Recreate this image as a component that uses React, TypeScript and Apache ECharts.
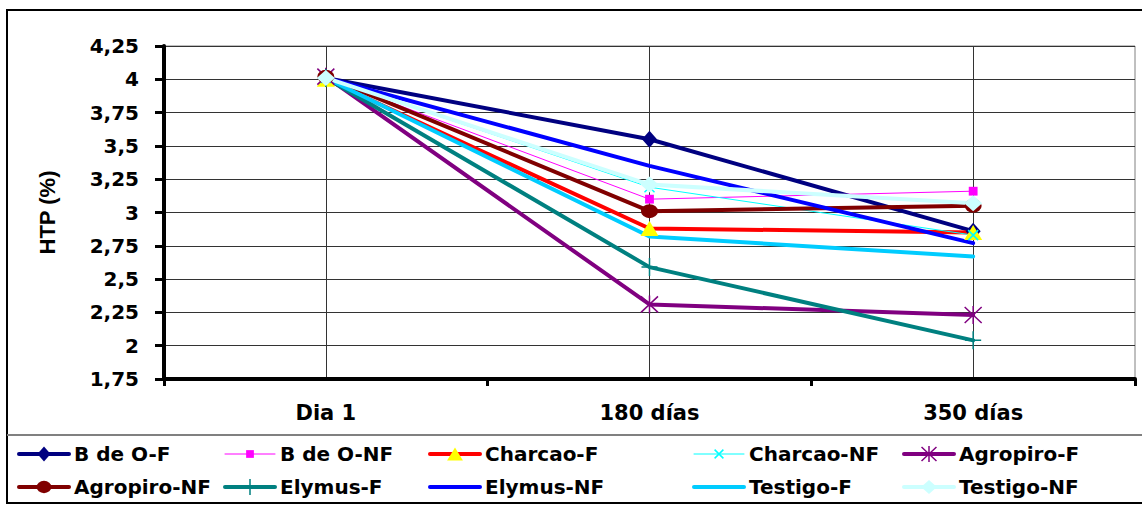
import React, { useEffect, useRef } from 'react';
import * as echarts from 'echarts';

// ---- data ----
const categories = ['Dia 1', '180 días', '350 días'];
const seriesNames = [
  'B de O-F', 'B de O-NF', 'Charcao-F', 'Charcao-NF', 'Agropiro-F',
  'Agropiro-NF', 'Elymus-F', 'Elymus-NF', 'Testigo-F', 'Testigo-NF',
];
const bDeOF = [4.01, 3.55, 2.86];
const bDeONF = [4.01, 3.1, 3.16];
const charcaoF = [4.0, 2.88, 2.85];
const charcaoNF = [4.01, 3.19, 2.83];
const agropiroF = [4.02, 2.31, 2.23];
const agropiroNF = [4.02, 3.01, 3.05];
const elymusF = [4.01, 2.59, 2.04];
const elymusNF = [4.01, 3.35, 2.77];
const testigoF = [4.01, 2.82, 2.67];
const testigoNF = [4.01, 3.21, 3.07];
const seriesValues = [bDeOF, bDeONF, charcaoF, charcaoNF, agropiroF, agropiroNF, elymusF, elymusNF, testigoF, testigoNF];
const yMin = 1.75;
const yMax = 4.25;
const yStep = 0.25;
const centerSlots = ['0', '1', '2', '3', '4', '5', '6'];

// ---- marker shapes (20x20 box, padded) ----
const PAD = 'M0 0M20 20';
const mk = (d: string) => 'path://' + PAD + d;
const shapes = {
  diamond: mk('M10 1.5L17.5 10L10 18.5L2.5 10Z'),
  square: mk('M5.6 5.6H14.4V14.4H5.6Z'),
  triangle: mk('M10 2.5L19 17.5L1 17.5Z'),
  cross: mk('M5 5L15 15M15 5L5 15'),
  star: mk('M1.5 2L18.5 18M18.5 2L1.5 18M10 1V19'),
  ellipse: mk('M1.5 10A8.5 7 0 1 0 18.5 10A8.5 7 0 1 0 1.5 10Z'),
  plus: mk('M10 1V19M2 10H18'),
  bigDiamond: mk('M10 2L19 10L10 18L1 10Z'),
  none: mk('M0 9H20V11H0Z'),
};

type Sty = { line: string; mark: string; width: number; symbol: string; stroke?: boolean; hide?: boolean };
const styles: Sty[] = [
  { line: '#000080', mark: '#000080', width: 4, symbol: shapes.diamond },
  { line: '#FF00FF', mark: '#FF00FF', width: 1, symbol: shapes.square },
  { line: '#FF0000', mark: '#FFFF00', width: 4, symbol: shapes.triangle },
  { line: '#00FFFF', mark: '#00FFFF', width: 1, symbol: shapes.cross, stroke: true },
  { line: '#800080', mark: '#800080', width: 4, symbol: shapes.star, stroke: true },
  { line: '#800000', mark: '#800000', width: 4, symbol: shapes.ellipse },
  { line: '#008080', mark: '#008080', width: 4, symbol: shapes.plus, stroke: true },
  { line: '#0000FF', mark: '#0000FF', width: 4, symbol: shapes.none, hide: true },
  { line: '#00CCFF', mark: '#00CCFF', width: 4, symbol: shapes.none, hide: true },
  { line: '#CCFFFF', mark: '#CCFFFF', width: 4, symbol: shapes.bigDiamond },
];

const legendColumns = [[0, 5], [1, 6], [2, 7], [3, 8], [4, 9]];
const legendLefts = [17, 223, 428, 692, 902];

const boldFont = { fontFamily: 'DejaVu Sans', fontWeight: 'bold' as const, color: '#000' };

export default function App() {
  const ref = useRef<HTMLDivElement>(null);
  useEffect(() => {
    if (!ref.current) return;
    const chart = echarts.init(ref.current, undefined, { renderer: 'svg' });
    const series = seriesNames.map((name, i) => {
      const s = styles[i];
      return {
        name,
        type: 'line',
        data: seriesValues[i],
        xAxisIndex: 0,
        symbol: s.symbol,
        symbolSize: 20,
        showSymbol: !s.hide,
        lineStyle: { color: s.line, width: s.width, join: 'round', cap: 'round' },
        itemStyle: {
          color: s.mark,
          borderColor: s.mark,
          borderWidth: s.stroke ? 1.5 : 0,
        },
        emphasis: { disabled: true },
      };
    });
    chart.setOption({
      animation: false,
      grid: {
        left: 164, right: 7, top: 46, bottom: 127,
        show: true, borderColor: '#808080', borderWidth: 1, backgroundColor: 'transparent',
      },
      xAxis: [
        {
          type: 'category',
          data: categories,
          boundaryGap: true,
          position: 'bottom',
          axisLine: { show: true, lineStyle: { color: '#000', width: 4 } },
          axisTick: { show: true, length: 7, lineStyle: { color: '#000', width: 3 } },
          axisLabel: { ...boldFont, fontSize: 21, margin: 23 },
          splitLine: { show: false },
        },
        {
          type: 'category',
          data: centerSlots,
          boundaryGap: false,
          position: 'top',
          axisLine: { show: false },
          axisTick: { show: false },
          axisLabel: { show: false },
          splitLine: {
            show: true,
            interval: (idx: number) => idx % 2 === 1,
            lineStyle: { color: '#333', width: 1 },
          },
        },
      ],
      yAxis: {
        type: 'value',
        min: yMin,
        max: yMax,
        interval: yStep,
        name: 'HTP (%)',
        nameLocation: 'middle',
        nameRotate: 90,
        nameGap: 106,
        nameTextStyle: { fontFamily: 'Liberation Sans', fontWeight: 'bold', fontSize: 22, color: '#000' },
        axisLine: { show: true, lineStyle: { color: '#000', width: 4 } },
        axisTick: { show: true, length: 9, lineStyle: { color: '#000', width: 3 } },
        axisLabel: {
          ...boldFont,
          fontSize: 20,
          margin: 25,
          formatter: (v: number) => String(v).replace('.', ','),
        },
        splitLine: { show: true, lineStyle: { color: '#333', width: 1 } },
      },
      legend: legendColumns.map((col, i) => ({
        orient: 'vertical',
        left: legendLefts[i],
        top: 443,
        padding: 0,
        itemWidth: 50,
        itemHeight: 22,
        itemGap: 11,
        selectedMode: false,
        data: col.map((k) => seriesNames[k]),
        textStyle: { ...boldFont, fontSize: 20, lineHeight: 22 },
        lineStyle: { width: 'inherit' },
        itemStyle: { borderWidth: 'inherit' },
      })),
      graphic: [
        {
          type: 'rect',
          silent: true,
          z: -10,
          shape: { x: 7, y: 10, width: 1150, height: 493 },
          style: { fill: 'none', stroke: '#000', lineWidth: 2 },
        },
        {
          type: 'line',
          silent: true,
          shape: { x1: 7, y1: 435, x2: 1142, y2: 435 },
          style: { stroke: '#808080', lineWidth: 2 },
        },
      ],
      series,
    });
    return () => chart.dispose();
  }, []);
  return (
    <div
      ref={ref}
      style={{ position: 'absolute', left: 0, top: 0, width: 1142, height: 506, background: '#fff' }}
    />
  );
}
